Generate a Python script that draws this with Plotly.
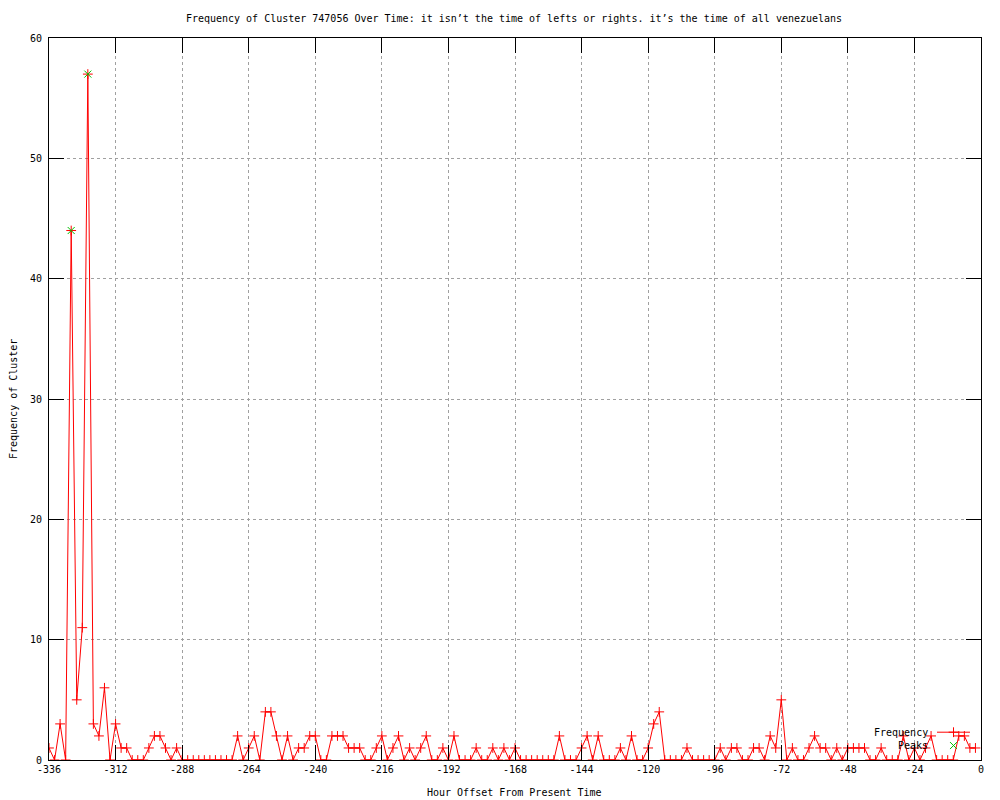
import plotly.graph_objects as go

# ---- data ----
hours = [-336, -334, -332, -330, -328, -326, -324, -322, -320, -318, -316, -314,
         -312, -310, -308, -306, -304, -302, -300, -298, -296, -294, -292, -290,
         -288, -286, -284, -282, -280, -278, -276, -274, -272, -270, -268, -266,
         -264, -262, -260, -258, -256, -254, -252, -250, -248, -246, -244, -242,
         -240, -238, -236, -234, -232, -230, -228, -226, -224, -222, -220, -218,
         -216, -214, -212, -210, -208, -206, -204, -202, -200, -198, -196, -194,
         -192, -190, -188, -186, -184, -182, -180, -178, -176, -174, -172, -170,
         -168, -166, -164, -162, -160, -158, -156, -154, -152, -150, -148, -146,
         -144, -142, -140, -138, -136, -134, -132, -130, -128, -126, -124, -122,
         -120, -118, -116, -114, -112, -110, -108, -106, -104, -102, -100, -98,
         -96, -94, -92, -90, -88, -86, -84, -82, -80, -78, -76, -74,
         -72, -70, -68, -66, -64, -62, -60, -58, -56, -54, -52, -50,
         -48, -46, -44, -42, -40, -38, -36, -34, -32, -30, -28, -26,
         -24, -22, -20, -18, -16, -14, -12, -10, -8, -6, -4, -2]
frequency = [1, 0, 3, 0, 44, 5, 11, 57, 3, 2, 6, 0,
             3, 1, 1, 0, 0, 0, 1, 2, 2, 1, 0, 1,
             0, 0, 0, 0, 0, 0, 0, 0, 0, 0, 2, 0,
             1, 2, 0, 4, 4, 2, 0, 2, 0, 1, 1, 2,
             2, 0, 0, 2, 2, 2, 1, 1, 1, 0, 0, 1,
             2, 0, 1, 2, 0, 1, 0, 1, 2, 0, 0, 1,
             0, 2, 0, 0, 0, 1, 0, 0, 1, 0, 1, 0,
             1, 0, 0, 0, 0, 0, 0, 0, 2, 0, 0, 0,
             1, 2, 0, 2, 0, 0, 0, 1, 0, 2, 0, 0,
             1, 3, 4, 0, 0, 0, 0, 1, 0, 0, 0, 0,
             0, 1, 0, 1, 1, 0, 0, 1, 1, 0, 2, 1,
             5, 0, 1, 0, 0, 1, 2, 1, 1, 0, 1, 0,
             1, 1, 1, 1, 0, 0, 1, 0, 0, 0, 2, 0,
             1, 0, 1, 2, 0, 0, 0, 0, 2, 2, 1, 1]
peak_hours = [-328, -322]
peak_values = [44, 57]

x_ticks = [-336, -312, -288, -264, -240, -216, -192, -168, -144, -120, -96, -72, -48, -24, 0]
x_tick_labels = ["-336", "-312", "-288", "-264", "-240", "-216", "-192", "-168",
                 "-144", "-120", "-96", "-72", "-48", "-24", "0"]
y_ticks = [0, 10, 20, 30, 40, 50, 60]

title_text = ("Frequency of Cluster 747056 Over Time: it isn\u2019t the time of lefts "
              "or rights. it\u2019s the time of all venezuelans")
x_title = "Hour Offset From Present Time"
y_title = "Frequency of Cluster"
series_names = ["Frequency", "Peaks"]

FONT = "DejaVu Sans Mono"
RED = "#ff0000"
GREEN = "#00c000"

fig = go.Figure()
fig.add_trace(go.Scatter(
    x=hours, y=frequency, mode="lines+markers", name=series_names[0],
    line=dict(color=RED, width=1),
    marker=dict(symbol="cross-thin-open", size=7, color=RED,
                line=dict(color=RED, width=1)),
    showlegend=False,
))
fig.add_trace(go.Scatter(
    x=peak_hours, y=peak_values, mode="markers", name=series_names[1],
    marker=dict(symbol="x-thin-open", size=7, color=GREEN,
                line=dict(color=GREEN, width=1)),
    showlegend=False,
))

# ---- gnuplot-style key (text left of sample), on an overlay axis ----
key_x0, key_x1, key_xc = 0.9528, 0.9882, 0.9705
key_y = [0.0385, 0.0200]
fig.add_trace(go.Scatter(
    x=[key_x0, key_x1], y=[key_y[0], key_y[0]], mode="lines",
    line=dict(color=RED, width=1), xaxis="x2", yaxis="y2",
    showlegend=False, hoverinfo="skip", cliponaxis=False))
fig.add_trace(go.Scatter(
    x=[key_xc], y=[key_y[0]], mode="markers",
    marker=dict(symbol="cross-thin-open", size=7, color=RED,
                line=dict(color=RED, width=1)),
    xaxis="x2", yaxis="y2", showlegend=False, hoverinfo="skip", cliponaxis=False))
fig.add_trace(go.Scatter(
    x=[key_xc], y=[key_y[1]], mode="markers",
    marker=dict(symbol="x-thin-open", size=7, color=GREEN,
                line=dict(color=GREEN, width=1)),
    xaxis="x2", yaxis="y2", showlegend=False, hoverinfo="skip", cliponaxis=False))

annotations = []
for name, yy in zip(series_names, key_y):
    annotations.append(dict(text=name, xref="paper", yref="paper", x=0.9453, y=yy,
                            xanchor="right", yanchor="middle", showarrow=False,
                            font=dict(family=FONT, size=10, color="black")))
annotations.append(dict(text=x_title, xref="paper", yref="paper", x=0.4995, y=-0.0457,
                        xanchor="center", yanchor="middle", showarrow=False,
                        font=dict(family=FONT, size=10, color="black")))
annotations.append(dict(text=y_title, xref="paper", yref="paper", x=-0.0386, y=0.50,
                        xanchor="center", yanchor="middle", showarrow=False, textangle=-90,
                        font=dict(family=FONT, size=10, color="black")))

axis_common = dict(
    showline=True, linecolor="black", linewidth=1, mirror="ticks",
    ticks="inside", ticklen=15, tickwidth=1, tickcolor="black",
    showgrid=True, gridcolor="#a0a0a0", gridwidth=1, griddash="dot",
    zeroline=False, tickfont=dict(family=FONT, size=10, color="black"),
)

fig.update_layout(
    width=1000, height=800,
    margin=dict(l=49, r=19, t=38, b=40),
    paper_bgcolor="white", plot_bgcolor="white",
    title=dict(text=title_text, x=0.514, xanchor="center", xref="container",
               y=1 - 18 / 800, yref="container", yanchor="middle",
               font=dict(family=FONT, size=10, color="black")),
    xaxis=dict(range=[-336, 0], tickvals=x_ticks, ticktext=x_tick_labels, **axis_common),
    yaxis=dict(range=[0, 60], tickvals=y_ticks, ticklabelstandoff=4, **axis_common),
    xaxis2=dict(overlaying="x", range=[0, 1], visible=False, anchor="y2"),
    yaxis2=dict(overlaying="y", range=[0, 1], visible=False, anchor="x2"),
    annotations=annotations,
    showlegend=False,
)

fig.write_html(
    "out.html",
    config={"displayModeBar": False},
    post_script="document.body.style.margin='0';document.body.style.overflow='hidden';",
)
